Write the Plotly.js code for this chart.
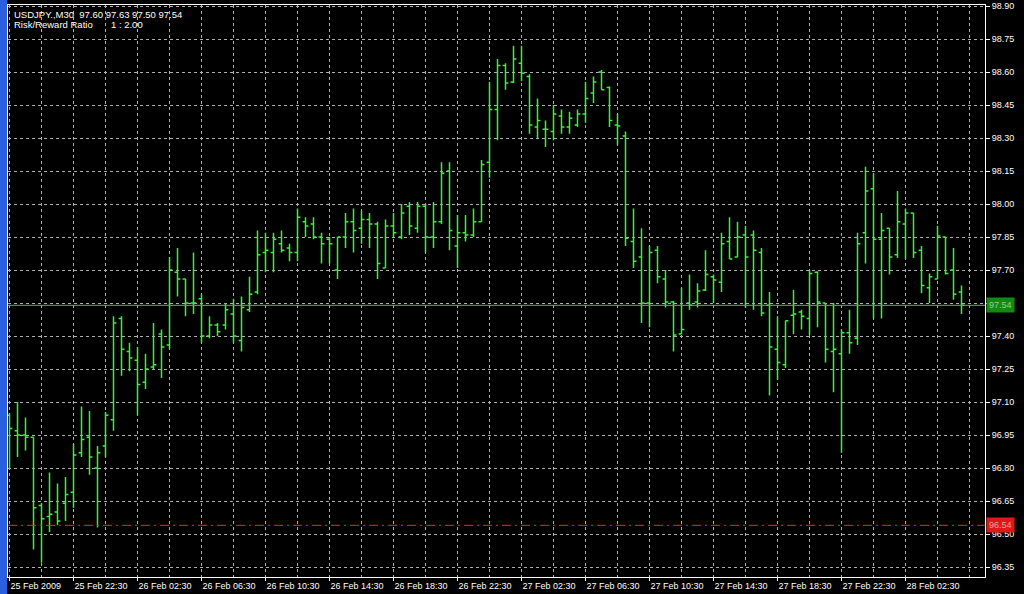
<!DOCTYPE html>
<html><head><meta charset="utf-8">
<script src="https://cdn.plot.ly/plotly-3.0.1.min.js"></script>
<style>html,body{margin:0;padding:0;background:#000;}#chart{width:1024px;height:594px;}</style>
</head><body><div id="chart"></div>
<script>
const symbolText = "USDJPY.,M30\u00a0\u00a097.60 97.63 97.50 97.54";
const rrLabel = "Risk/Reward Ratio";
const rrValue = "1 : 2.00";
const openP = [97.04,96.97,96.95,96.94,96.63,96.58,96.60,96.64,96.69,96.87,
96.94,96.80,96.90,97.02,97.48,97.33,97.29,97.19,97.26,97.41,
97.36,97.69,97.66,97.55,97.57,97.40,97.45,97.45,97.50,97.38,
97.52,97.60,97.78,97.78,97.82,97.80,97.78,97.92,97.91,97.85,
97.84,97.70,97.85,97.92,97.89,97.93,97.91,97.71,97.90,97.85,
97.99,97.89,97.99,97.85,97.92,98.15,97.81,97.87,97.86,97.92,
98.19,98.43,98.63,98.555,98.64,98.58,98.35,98.34,98.33,98.40,
98.35,98.36,98.41,98.505,98.60,98.53,98.36,98.31,97.83,97.76,
97.55,97.79,97.66,97.555,97.41,97.55,97.555,97.61,97.67,97.645,
97.83,97.76,97.86,97.86,97.78,97.54,97.34,97.27,97.495,97.51,
97.48,97.69,97.55,97.33,97.32,97.415,97.39,97.87,98.07,97.84,
97.89,97.77,97.91,97.96,97.79,97.62,97.66,97.85,97.70,97.60];
const highP = [97.05,97.10,97.03,96.94,96.64,96.78,96.73,96.76,96.91,97.08,
97.06,96.90,97.055,97.49,97.49,97.37,97.35,97.32,97.46,97.43,
97.76,97.80,97.66,97.78,97.59,97.49,97.46,97.55,97.57,97.58,
97.67,97.88,97.87,97.87,97.88,97.82,97.98,97.94,97.94,97.87,
97.85,97.85,97.96,97.98,97.97,97.96,97.92,97.93,97.96,98.00,
98.01,98.01,98.00,98.01,98.19,98.19,97.95,97.95,97.98,98.20,
98.555,98.66,98.64,98.72,98.72,98.59,98.48,98.38,98.45,98.43,
98.42,98.43,98.555,98.58,98.61,98.535,98.41,98.33,97.98,97.89,
97.81,97.81,97.70,97.56,97.62,97.68,97.64,97.79,97.68,97.87,
97.94,97.92,97.90,97.88,97.80,97.60,97.49,97.47,97.61,97.52,
97.70,97.695,97.55,97.55,97.43,97.52,97.87,98.17,98.14,97.96,
97.89,98.06,97.98,97.96,97.81,97.685,97.90,97.85,97.80,97.63];
const lowP = [96.80,96.85,96.88,96.43,96.37,96.51,96.54,96.56,96.62,96.85,
96.77,96.53,96.85,96.97,97.22,97.24,97.04,97.16,97.25,97.21,
97.34,97.58,97.49,97.50,97.37,97.39,97.40,97.43,97.37,97.33,
97.51,97.59,97.69,97.69,97.78,97.74,97.74,97.85,97.84,97.73,
97.73,97.66,97.80,97.78,97.82,97.80,97.66,97.71,97.85,97.84,
97.86,97.87,97.78,97.80,97.91,97.79,97.71,97.83,97.85,97.92,
98.12,98.29,98.52,98.55,98.56,98.32,98.30,98.26,98.29,98.32,
98.32,98.35,98.37,98.46,98.52,98.35,98.27,97.81,97.71,97.46,
97.44,97.64,97.53,97.33,97.41,97.52,97.53,97.605,97.55,97.60,
97.75,97.76,97.53,97.52,97.49,97.13,97.20,97.255,97.41,97.43,
97.405,97.44,97.28,97.145,96.87,97.32,97.36,97.73,97.48,97.48,
97.68,97.755,97.75,97.755,97.595,97.55,97.66,97.68,97.565,97.50];
const closeP = [96.98,96.95,96.94,96.62,96.57,96.59,96.56,96.68,96.86,96.93,
96.85,96.87,97.04,97.46,97.34,97.30,97.18,97.25,97.27,97.35,
97.70,97.66,97.55,97.55,97.40,97.45,97.42,97.52,97.40,97.53,
97.59,97.77,97.79,97.84,97.79,97.78,97.94,97.90,97.85,97.82,
97.82,97.85,97.92,97.88,97.93,97.91,97.73,97.90,97.87,97.96,
97.90,97.99,97.85,97.92,98.14,97.88,97.87,97.86,97.92,98.18,
98.43,98.63,98.55,98.66,98.595,98.36,98.38,98.34,98.41,98.35,
98.39,98.41,98.48,98.555,98.52,98.38,98.355,97.845,97.74,97.55,
97.78,97.67,97.555,97.405,97.43,97.54,97.605,97.68,97.655,97.82,
97.75,97.85,97.76,97.79,97.505,97.35,97.28,97.47,97.50,97.49,
97.685,97.555,97.34,97.34,97.415,97.37,97.82,98.06,97.84,97.88,
97.76,97.92,97.96,97.78,97.63,97.67,97.855,97.685,97.59,97.54];
const timeLabels = ["25 Feb 2009","25 Feb 22:30","26 Feb 02:30","26 Feb 06:30","26 Feb 10:30",
"26 Feb 14:30","26 Feb 18:30","26 Feb 22:30","27 Feb 02:30","27 Feb 06:30","27 Feb 10:30",
"27 Feb 14:30","27 Feb 18:30","27 Feb 22:30","28 Feb 02:30"];
const priceTicks = [96.35,96.50,96.65,96.80,96.95,97.10,97.25,97.40,97.55,97.70,
97.85,98.00,98.15,98.30,98.45,98.60,98.75,98.90];
const barsPerLabel = 8;
const bidPrice = 97.54;
const stopPrice = 96.54;

const barIdx = openP.map((_, i) => i);
const tickVals = timeLabels.map((_, k) => k * barsPerLabel);
// price tick labels hidden where the price box covers them (as in the reference)
const priceTickText = priceTicks.map(v => Math.abs(v - bidPrice) < 0.05 ? '' : v.toFixed(2));

const barColor = '#3cf03c';
const gridColor = '#b0b0b0';
const fontFam = 'Liberation Sans, Arial, sans-serif';

const trace = {
  type: 'ohlc', x: barIdx, open: openP, high: highP, low: lowP, close: closeP,
  increasing: {line: {color: barColor, width: 1.5}},
  decreasing: {line: {color: barColor, width: 1.5}},
  tickwidth: 0.36, hoverinfo: 'skip', showlegend: false
};

const layout = {
  width: 1024, height: 594,
  margin: {l: 8, r: 39, t: 5, b: 17},
  paper_bgcolor: '#000', plot_bgcolor: '#000',
  font: {family: fontFam, size: 9, color: '#fff'},
  showlegend: false,
  xaxis: {
    range: [-0.1875, 121.9375], rangeslider: {visible: false},
    tickmode: 'array', tickvals: tickVals, ticktext: timeLabels,
    ticks: 'outside', ticklen: 3, tickcolor: '#fff', ticklabelposition: 'outside right',
    tickfont: {family: fontFam, size: 9, color: '#fff'},
    showline: true, linecolor: '#fff', linewidth: 1, mirror: true,
    showgrid: true, gridcolor: gridColor, griddash: '3px,3px', gridwidth: 1,
    minor: {tick0: 0, dtick: barsPerLabel / 2, showgrid: true, gridcolor: gridColor, griddash: '3px,3px', gridwidth: 1, ticks: ''},
    zeroline: false, fixedrange: true
  },
  yaxis: {
    side: 'right', range: [96.305, 98.905],
    tickmode: 'array', tickvals: priceTicks, ticktext: priceTickText,
    ticks: 'outside', ticklen: 4, tickcolor: '#fff',
    tickfont: {family: fontFam, size: 9, color: '#fff'},
    showline: true, linecolor: '#fff', linewidth: 1, mirror: true,
    showgrid: true, gridcolor: gridColor, griddash: '3px,3px', gridwidth: 1,
    zeroline: false, fixedrange: true
  },
  shapes: [
    {type: 'line', xref: 'paper', yref: 'y', x0: 0, x1: 1, y0: bidPrice, y1: bidPrice,
     line: {color: '#7f9f7f', width: 1}},
    {type: 'line', xref: 'paper', yref: 'y', x0: 0, x1: 1, y0: stopPrice, y1: stopPrice,
     line: {color: '#f02828', width: 1, dash: '9px,4px,2px,4px'}},
    {type: 'rect', xref: 'paper', yref: 'paper', x0: -8/977, x1: -1/977, y0: -17/572, y1: 1 + 5/572,
     line: {width: 0}, fillcolor: '#2a5fe0', layer: 'above'}
  ],
  annotations: [
    {xref: 'paper', yref: 'paper', x: 0, y: 1, xanchor: 'left', yanchor: 'top', xshift: 4, yshift: -2,
     text: symbolText, showarrow: false, font: {family: fontFam, size: 9.5, color: '#fff'}},
    {xref: 'paper', yref: 'paper', x: 0, y: 1, xanchor: 'left', yanchor: 'top', xshift: 4, yshift: -12,
     text: rrLabel, showarrow: false, font: {family: fontFam, size: 9.5, color: '#fff'}},
    {xref: 'paper', yref: 'paper', x: 0, y: 1, xanchor: 'left', yanchor: 'top', xshift: 101, yshift: -12,
     text: rrValue, showarrow: false, font: {family: fontFam, size: 9.5, color: '#fff'}},
    {xref: 'paper', yref: 'y', x: 1, y: bidPrice, xanchor: 'left', yanchor: 'middle', xshift: 1,
     text: bidPrice.toFixed(2), showarrow: false, bgcolor: '#128a12', borderpad: 2,
     font: {family: fontFam, size: 9, color: '#8fd08f'}},
    {xref: 'paper', yref: 'y', x: 1, y: stopPrice, xanchor: 'left', yanchor: 'middle', xshift: 1,
     text: stopPrice.toFixed(2), showarrow: false, bgcolor: '#e01818', borderpad: 2,
     font: {family: fontFam, size: 9, color: '#f4a0a0'}}
  ]
};

Plotly.newPlot('chart', [trace], layout, {staticPlot: true, displayModeBar: false});
</script></body></html>
